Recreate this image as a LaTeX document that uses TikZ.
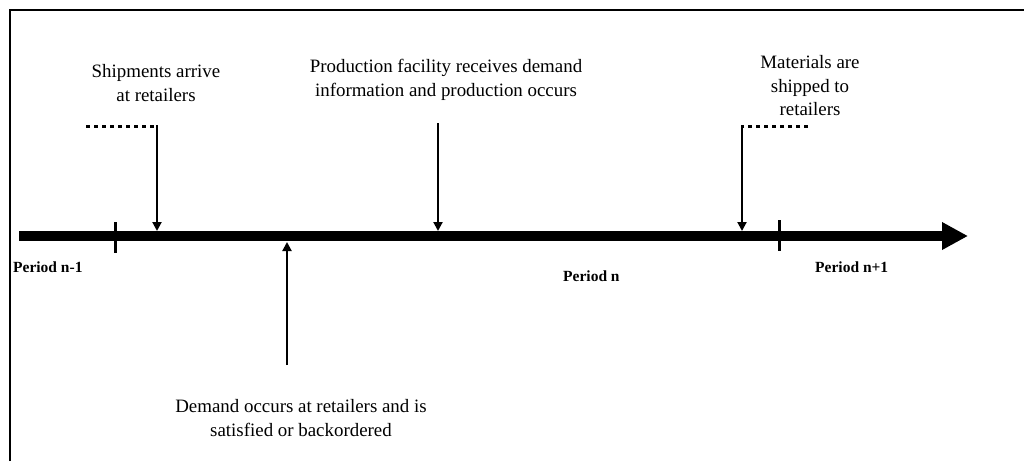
\documentclass[tikz,border=0pt]{standalone}
\usepackage{fontspec}
\setmainfont{Liberation Serif}
\usetikzlibrary{arrows.meta}
\begin{document}
\begin{tikzpicture}[x=1pt,y=-1pt,
  border/.style={line width=2pt},
  timeline/.style={line width=10pt,-{Triangle[length=26pt,width=26pt]}},
  periodtick/.style={line width=3pt},
  event/.style={line width=2pt,-{Triangle[length=9pt,width=9pt]}},
  lead/.style={line width=3pt,dash pattern=on 4pt off 4pt},
  note/.style={font=\fontsize{18.9}{23.8}\selectfont,align=center,inner sep=0pt,anchor=north},
  period/.style={font=\bfseries\fontsize{15.5}{18}\selectfont,inner sep=0pt,anchor=base west}]
\useasboundingbox (0,0) rectangle (1024,461);

% open frame: left and top edges only
\coordinate (fb) at (9.5,461);
\coordinate (fc) at (9.5,10);
\coordinate (fr) at (1024,10);
\draw[border] (fb) -- (fc) -- (fr);

% time axis with period boundaries
\coordinate (t0) at (19,236);
\coordinate (t1) at (968,236);
\draw[timeline] (t0) -- (t1);
\coordinate (k1a) at (115,222);
\coordinate (k1b) at (115,253);
\coordinate (k2a) at (779,220);
\coordinate (k2b) at (779,251);
\draw[periodtick] (k1a) -- (k1b);
\draw[periodtick] (k2a) -- (k2b);

% events
\coordinate (s0) at (86,126);
\coordinate (s1) at (157,125);
\coordinate (s2) at (157,231);
\draw[lead] (s0) -- (s1 |- s0);
\draw[event] (s1) -- (s2);

\coordinate (p1) at (438,123);
\coordinate (p2) at (438,231);
\draw[event] (p1) -- (p2);

\coordinate (m0) at (808,126);
\coordinate (m1) at (742,125);
\coordinate (m2) at (742,231);
\draw[lead] (m0) -- (m1 |- m0);
\draw[event] (m1) -- (m2);

\coordinate (d1) at (287,365);
\coordinate (d2) at (287,242);
\draw[event] (d1) -- (d2);

% event descriptions
\node[note] (ship) at (156,64) {Shipments arrive\\at retailers};
\node[note] (prod) at (446,59) {Production facility receives demand\\information and production occurs};
\node[note] (mat) at (810,55) {Materials are\\shipped to\\retailers};
\node[note] (dem) at (301,399) {Demand occurs at retailers and is\\satisfied or backordered};

% period names
\node[period] (pn1) at (13,272) {Period n-1};
\node[period] (pn) at (563,281) {Period n};
\node[period] (pn2) at (815,272) {Period n+1};
\end{tikzpicture}
\end{document}
